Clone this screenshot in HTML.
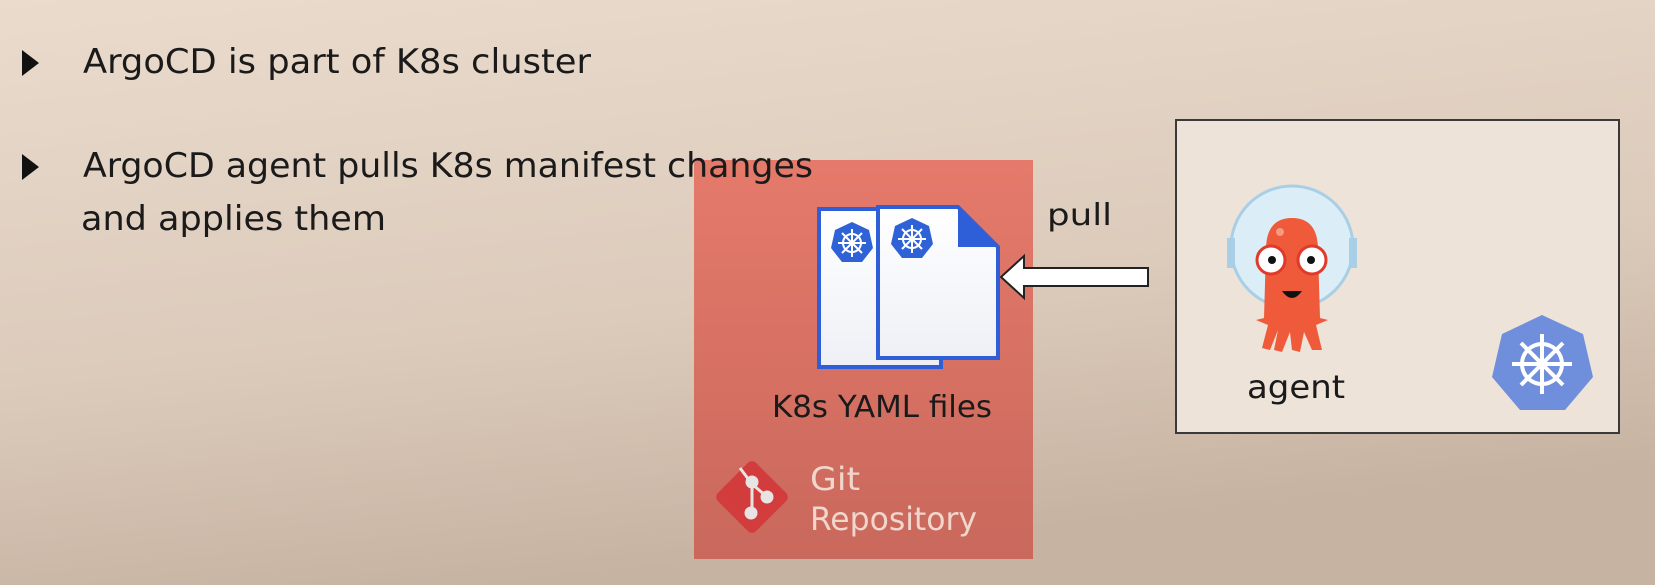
<!DOCTYPE html>
<html><head><meta charset="utf-8"><style>
html,body{margin:0;padding:0;width:1655px;height:585px;overflow:hidden}
svg{display:block}
text{font-family:"DejaVu Sans Condensed","Liberation Sans Narrow","Liberation Sans",sans-serif}
</style></head><body>
<svg width="1655" height="585" viewBox="0 0 1655 585" xmlns="http://www.w3.org/2000/svg">
<defs>
<linearGradient id="bg" x1="0" y1="0" x2="0.3" y2="1">
<stop offset="0" stop-color="#eadbcd"/><stop offset="0.6" stop-color="#dccbbb"/><stop offset="1" stop-color="#c7b3a2"/>
</linearGradient>
<linearGradient id="red" x1="0" y1="0" x2="0" y2="1">
<stop offset="0" stop-color="#e57a6b"/><stop offset="1" stop-color="#c9685c"/>
</linearGradient>
<linearGradient id="doc" x1="0" y1="0" x2="0" y2="1">
<stop offset="0" stop-color="#ffffff"/><stop offset="1" stop-color="#eef0f6"/>
</linearGradient>
</defs>
<rect width="1655" height="585" fill="url(#bg)"/>

<polygon points="22,50 39,63 22,76" fill="#111"/>
<text x="83" y="73" font-size="34" fill="#1a1a1a" textLength="508" lengthAdjust="spacingAndGlyphs">ArgoCD is part of K8s cluster</text>
<polygon points="22,154 39,167 22,180" fill="#111"/>

<rect x="694" y="160" width="339" height="399" fill="url(#red)"/>
<text x="81" y="230" font-size="34" fill="#1a1a1a" textLength="305" lengthAdjust="spacingAndGlyphs">and applies them</text>
<text x="83" y="177" font-size="34" fill="#1a1a1a" textLength="730" lengthAdjust="spacingAndGlyphs">ArgoCD agent pulls K8s manifest changes</text>

<rect x="819" y="209" width="122" height="158" fill="url(#doc)" stroke="#2f5fd8" stroke-width="4"/>
<path d="M878 207 L958 207 L998 247 L998 358 L878 358 Z" fill="url(#doc)" stroke="#2f5fd8" stroke-width="4"/>
<path d="M958 207 L958 247 L998 247 Z" fill="#2f5fd8"/>
<g fill="#2e62d6">
<polygon points="852,222 869,230 873,248 862,262 842,262 831,248 835,230"/>
<polygon points="912,218 929,226 933,244 922,258 902,258 891,244 895,226"/>
</g>
<g stroke="#fff" stroke-width="2" fill="none">
<circle cx="852" cy="243" r="9"/><circle cx="912" cy="239" r="9"/>
<path d="M852 229v28M838 243h28M842 233l20 20M862 233l-20 20"/>
<path d="M912 225v28M898 239h28M902 229l20 20M922 229l-20 20"/>
</g>

<text x="772" y="417" font-size="30" fill="#1a1a1a" textLength="220" lengthAdjust="spacingAndGlyphs">K8s YAML files</text>

<rect x="725" y="470" width="54" height="54" rx="6" transform="rotate(45 752 497)" fill="#d23c3c"/>
<g fill="#e8e4e4" stroke="#e8e4e4" stroke-width="3">
<line x1="740" y1="468" x2="752" y2="484"/><line x1="752" y1="484" x2="752" y2="513"/><line x1="752" y1="484" x2="766" y2="496"/>
<circle cx="752" cy="482" r="5"/><circle cx="767" cy="497" r="5"/><circle cx="751" cy="513" r="5"/>
</g>
<text x="810" y="490" font-size="32" fill="#f0d6cc" textLength="50" lengthAdjust="spacingAndGlyphs">Git</text>
<text x="810" y="530" font-size="32" fill="#f0d6cc" textLength="167" lengthAdjust="spacingAndGlyphs">Repository</text>

<path d="M1148 268 L1024 268 L1024 256 L1001 277 L1024 298 L1024 286 L1148 286 Z" fill="#fff" stroke="#222" stroke-width="2"/>
<text x="1047" y="225" font-size="30" fill="#1a1a1a" textLength="65" lengthAdjust="spacingAndGlyphs">pull</text>

<rect x="1176" y="120" width="443" height="313" fill="#eee3d9" stroke="#3a3a3a" stroke-width="2"/>
<circle cx="1292" cy="247" r="61" fill="#dbeef7" stroke="#a9cfe6" stroke-width="3"/>
<rect x="1227" y="238" width="8" height="30" fill="#a9cfe6"/><rect x="1349" y="238" width="8" height="30" fill="#a9cfe6"/>
<path d="M1266 250 Q1266 218 1292 218 Q1318 218 1318 250 L1320 318 L1328 320 L1316 325 L1322 350 L1312 350 L1304 332 L1300 352 L1292 350 L1290 332 L1282 352 L1274 350 L1278 330 L1270 350 L1262 348 L1268 325 L1256 320 L1264 318 Z" fill="#ef5a3a"/>
<circle cx="1271" cy="260" r="14" fill="#fff" stroke="#e03a2a" stroke-width="3"/>
<circle cx="1312" cy="260" r="14" fill="#fff" stroke="#e03a2a" stroke-width="3"/>
<circle cx="1272" cy="260" r="4" fill="#111"/><circle cx="1311" cy="260" r="4" fill="#111"/>
<path d="M1282 291 Q1292 305 1302 291 Z" fill="#111"/>
<circle cx="1280" cy="232" r="4" fill="#f79a80"/>
<text x="1247" y="398" font-size="32" fill="#1a1a1a" textLength="98" lengthAdjust="spacingAndGlyphs">agent</text>
<polygon points="1542,315 1583,334 1593,377 1565,410 1520,410 1492,377 1502,334" fill="#6f8fdc"/>
<g stroke="#fff" stroke-width="4" fill="none">
<circle cx="1542" cy="364" r="20"/>
<path d="M1542 334v60M1512 364h60M1521 343l42 42M1563 343l-42 42"/>
</g>
<circle cx="1542" cy="364" r="5" fill="#fff"/>
</svg>
</body></html>
